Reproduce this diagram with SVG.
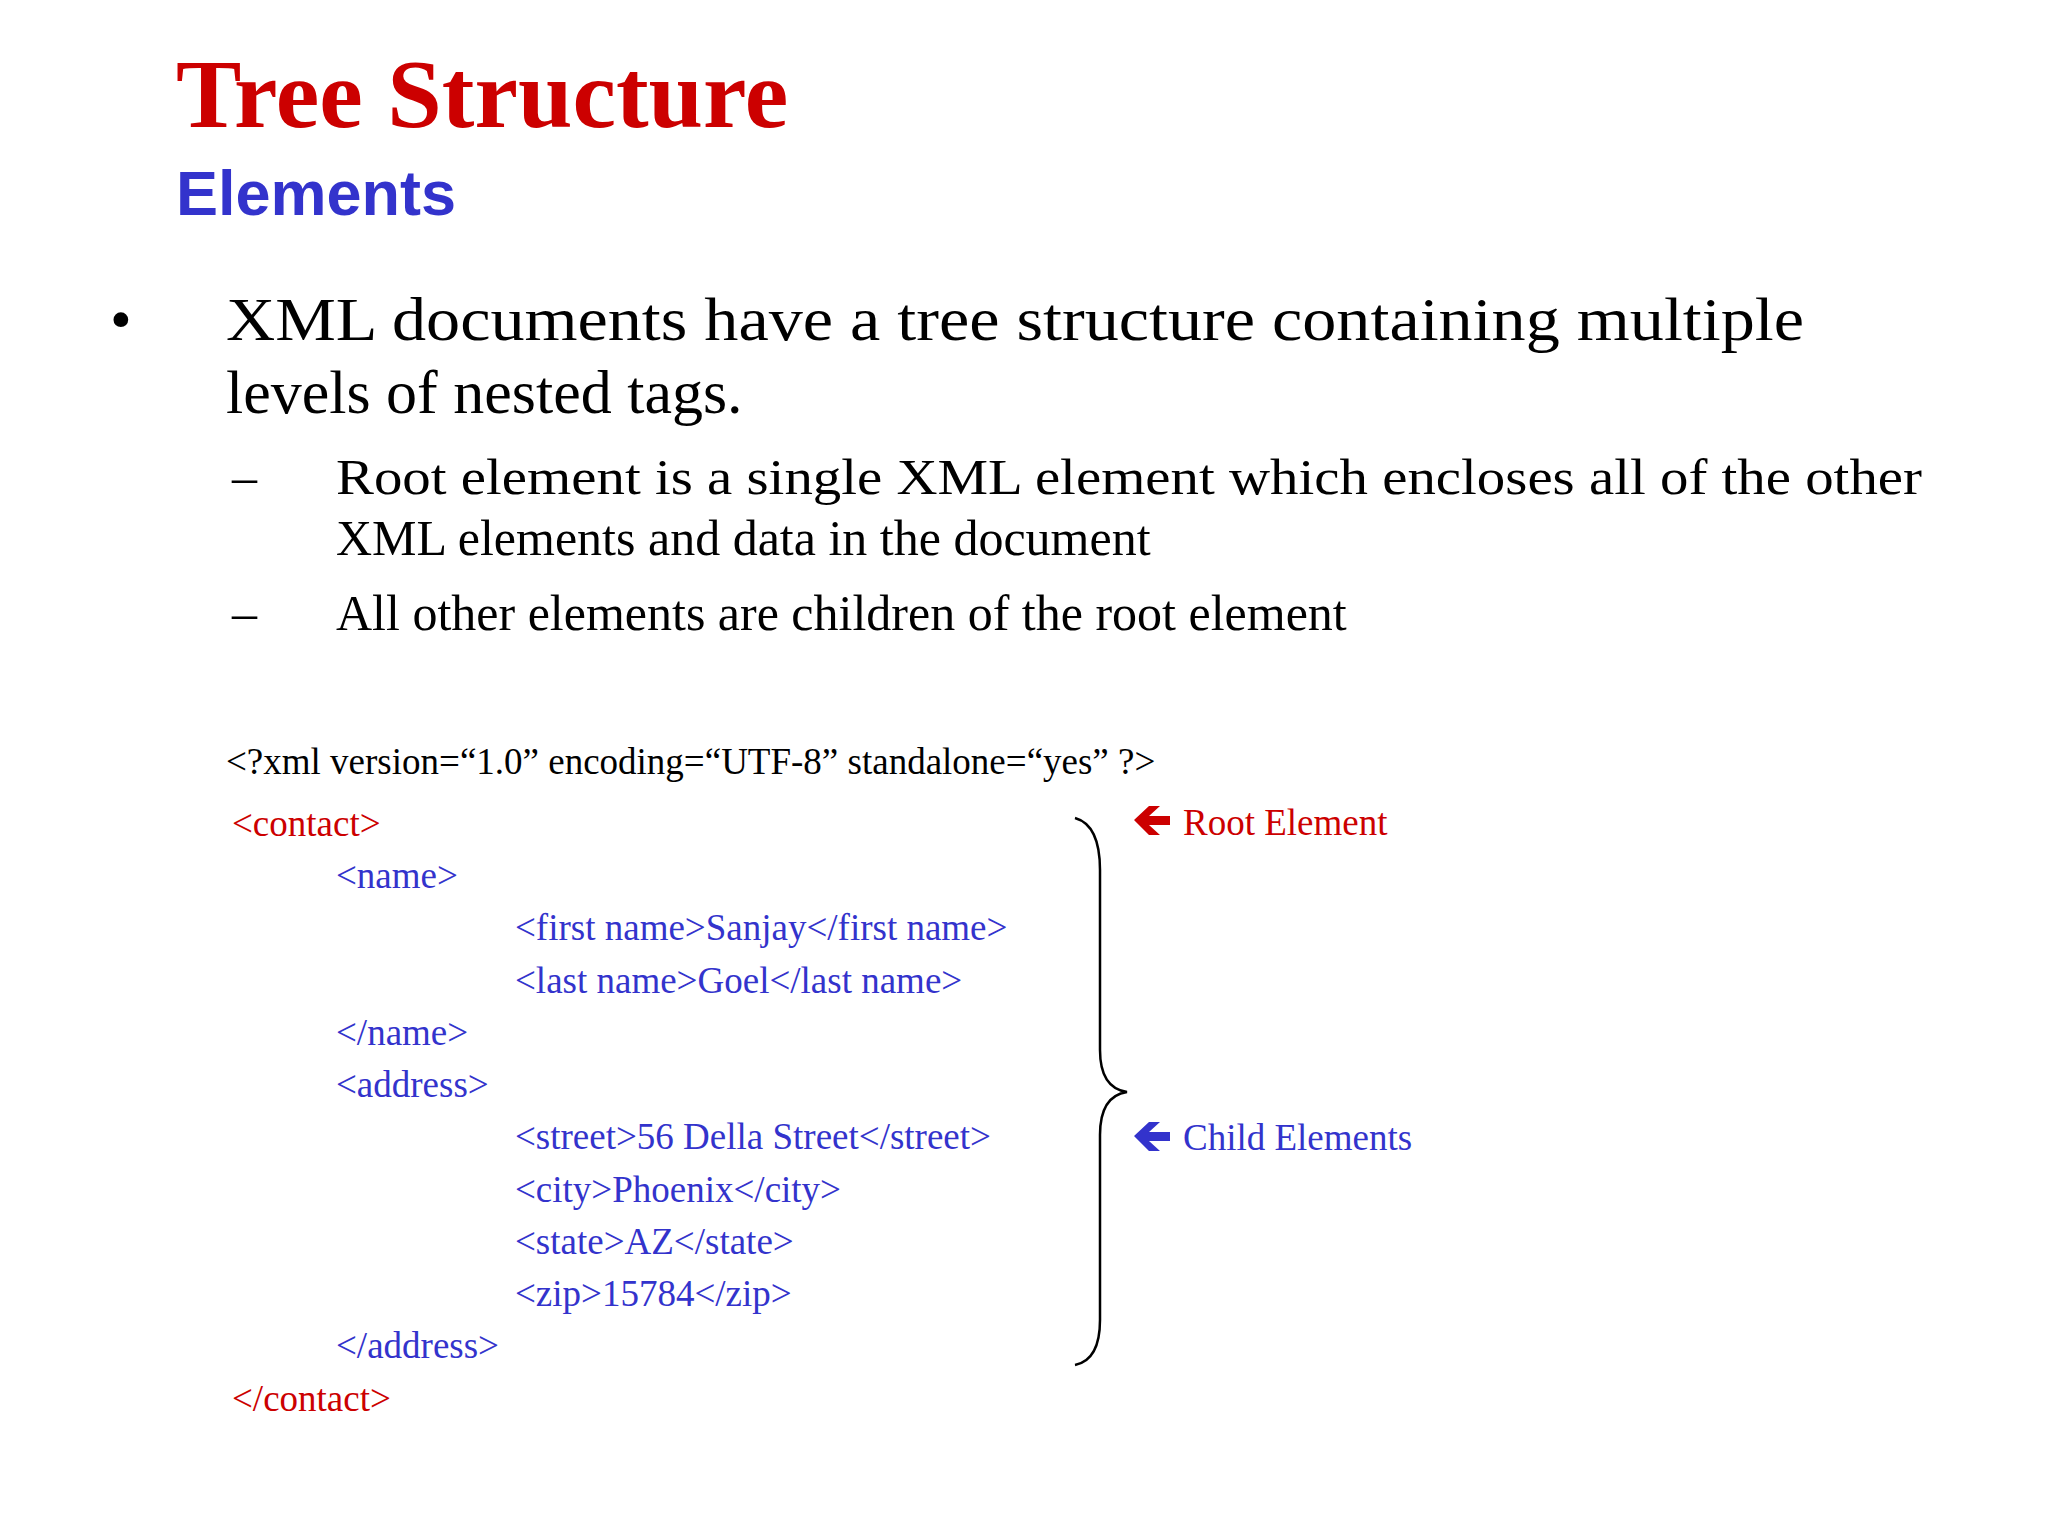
<svg xmlns="http://www.w3.org/2000/svg" width="2048" height="1536" viewBox="0 0 2048 1536">
<style>
.t{font-family:"Liberation Serif",serif}
.r{fill:#CC0000}.b{fill:#3333CC}.k{fill:#000}
.c{font-size:37px}
</style>
<rect width="2048" height="1536" fill="#fff"/>
<g id="title">
<text x="176" y="127" class="t r" font-size="98" font-weight="bold">Tree Structure</text>
<text x="176" y="215" font-family="Liberation Sans,sans-serif" font-size="63" font-weight="bold" class="b">Elements</text>
</g>
<g id="bullets" class="t k">
<text x="110" y="340" font-size="62">•</text>
<text x="226" y="340" font-size="62" textLength="1578" lengthAdjust="spacingAndGlyphs">XML documents have a tree structure containing multiple</text>
<text x="226" y="413" font-size="62">levels of nested tags.</text>
<text x="232" y="494" font-size="50">–</text>
<text x="336" y="494" font-size="50" textLength="1586" lengthAdjust="spacingAndGlyphs">Root element is a single XML element which encloses all of the other</text>
<text x="336" y="555" font-size="50">XML elements and data in the document</text>
<text x="232" y="630" font-size="50">–</text>
<text x="336" y="630" font-size="50">All other elements are children of the root element</text>
</g>
<g id="code" class="t c">
<text x="226" y="774" class="k">&lt;?xml version=“1.0” encoding=“UTF-8” standalone=“yes” ?&gt;</text>
<text x="232" y="836" class="r">&lt;contact&gt;</text>
<text x="336" y="888" class="b">&lt;name&gt;</text>
<text x="515" y="940" class="b">&lt;first name&gt;Sanjay&lt;/first name&gt;</text>
<text x="515" y="993" class="b">&lt;last name&gt;Goel&lt;/last name&gt;</text>
<text x="336" y="1045" class="b">&lt;/name&gt;</text>
<text x="336" y="1097" class="b">&lt;address&gt;</text>
<text x="515" y="1149" class="b">&lt;street&gt;56 Della Street&lt;/street&gt;</text>
<text x="515" y="1202" class="b">&lt;city&gt;Phoenix&lt;/city&gt;</text>
<text x="515" y="1254" class="b">&lt;state&gt;AZ&lt;/state&gt;</text>
<text x="515" y="1306" class="b">&lt;zip&gt;15784&lt;/zip&gt;</text>
<text x="336" y="1358" class="b">&lt;/address&gt;</text>
<text x="232" y="1411" class="r">&lt;/contact&gt;</text>
</g>
<g id="connectors">
<path d="M1075,818 Q1100,825 1100,870 L1100,1050 Q1100,1088 1127,1092 Q1100,1096 1100,1135 L1100,1320 Q1100,1360 1075,1365" fill="none" stroke="#000" stroke-width="2.5"/>
</g>
<g id="root-label">
<polygon points="1134,820 1149,806 1160,806 1149,816 1170,816 1170,825 1149,825 1160,835 1149,835" class="r"/>
<text x="1183" y="835" class="t r" font-size="37">Root Element</text>
</g>
<g id="child-label">
<polygon points="1134,1136 1149,1122 1160,1122 1149,1132 1170,1132 1170,1141 1149,1141 1160,1151 1149,1151" class="b"/>
<text x="1183" y="1150" class="t b" font-size="37">Child Elements</text>
</g>
</svg>
